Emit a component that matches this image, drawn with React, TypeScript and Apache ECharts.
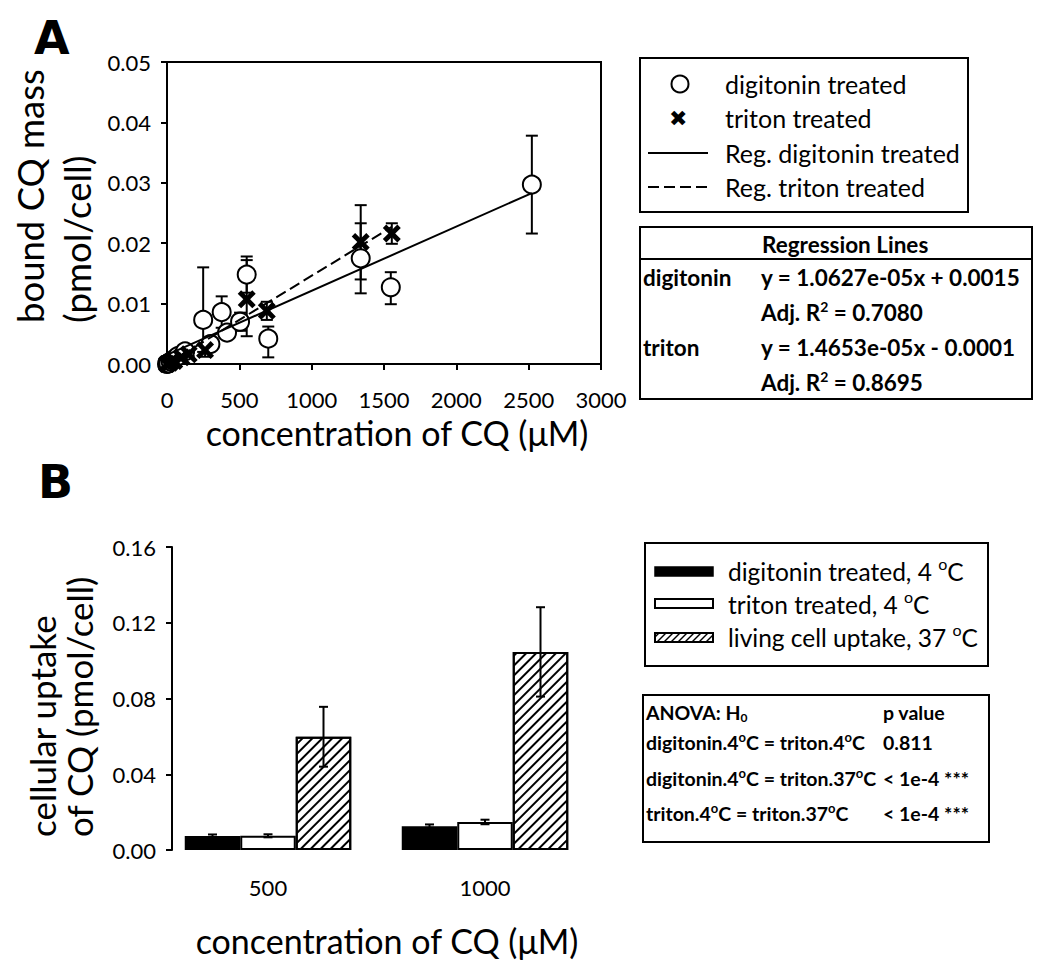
import React, { useEffect, useRef } from "react";
import * as echarts from "echarts";

// ---------- Panel A data ----------
// [concentration (µM), bound CQ (pmol/cell), lower error, upper error]
const digitoninPoints: number[][] = [
  [0, 0.0, 0.0, 0.0],
  [10, 0.0001, 0.0001, 0.0001],
  [25, 0.0004, 0.0004, 0.0004],
  [50, 0.0008, 0.0006, 0.001],
  [75, 0.0013, 0.001, 0.0016],
  [125, 0.0021, 0.0017, 0.0025],
  [250, 0.0073, 0.002, 0.016],
  [300, 0.0033, 0.0025, 0.0045],
  [378, 0.0086, 0.006, 0.0112],
  [415, 0.0052, 0.0045, 0.006],
  [505, 0.007, 0.0055, 0.0085],
  [551, 0.0148, 0.0118, 0.0178],
  [700, 0.0042, 0.0011, 0.0062],
  [1339, 0.0175, 0.0117, 0.0233],
  [1547, 0.0127, 0.0099, 0.0152],
  [2522, 0.0297, 0.0216, 0.0378],
];
const tritonPoints: number[][] = [
  [0, 0.0, 0.0, 0.0],
  [20, 0.0002, 0.0002, 0.0002],
  [50, 0.0005, 0.0004, 0.0006],
  [100, 0.0011, 0.0009, 0.0013],
  [150, 0.0016, 0.0013, 0.0019],
  [263, 0.0023, 0.0012, 0.0034],
  [551, 0.0107, 0.0046, 0.0172],
  [690, 0.0088, 0.0073, 0.0103],
  [1339, 0.0202, 0.014, 0.0263],
  [1554, 0.0216, 0.0199, 0.0233],
];
// regression line end points
const regDigitonin: number[][] = [
  [0, 0.0015],
  [2522, 0.0283],
];
const regTriton: number[][] = [
  [0, 0.0],
  [1554, 0.0227],
];
const xTicksA = { min: 0, max: 3000, interval: 500 };
const yTicksA = { min: 0, max: 0.05, interval: 0.01 };

// ---------- Panel B data ----------
const categoriesB = ["500", "1000"];
const digitonin4C = [0.0074, 0.0126];
const digitonin4CErr = [0.0008, 0.0009];
const triton4C = [0.0075, 0.0148];
const triton4CErr = [0.0008, 0.0012];
const living37C = [0.0598, 0.1046];
const living37CErr = [0.0158, 0.0236];
const yTicksB = { min: 0, max: 0.16, interval: 0.04 };

// ---------- text tables ----------
const legendA = ["digitonin treated", "triton treated", "Reg. digitonin treated", "Reg. triton treated"];
const regressionRows = [
  ["digitonin", "y = 1.0627e-05x + 0.0015"],
  ["", "Adj. R{sup|2} = 0.7080"],
  ["triton", "y = 1.4653e-05x - 0.0001"],
  ["", "Adj. R{sup|2} = 0.8695"],
];
const legendB = ["digitonin treated, 4 {sup|o}C", "triton treated, 4 {sup|o}C", "living cell uptake, 37 {sup|o}C"];
const anovaRows = [
  ["ANOVA: H{sub|0}", "p value"],
  ["digitonin.4{sup|o}C = triton.4{sup|o}C", "0.811"],
  ["digitonin.4{sup|o}C = triton.37{sup|o}C", "< 1e-4 ***"],
  ["triton.4{sup|o}C = triton.37{sup|o}C", "< 1e-4 ***"],
];

const FONT = "Lato";
const CROSS =
  "path://M0,3.8 L3.8,0 L10,6.2 L16.2,0 L20,3.8 L13.8,10 L20,16.2 L16.2,20 L10,13.8 L3.8,20 L0,16.2 L6.2,10 Z";

export default function App() {
  const ref = useRef<HTMLDivElement>(null);
  useEffect(() => {
    const chart = echarts.init(ref.current!, null, { renderer: "svg" });

    const errA = (capHalf: number) => (params: any, api: any) => {
      const x = api.value(0);
      const top = api.coord([x, api.value(2)]);
      const bot = api.coord([x, api.value(1)]);
      const st = { stroke: "#000", lineWidth: 2 };
      return {
        type: "group",
        children: [
          { type: "line", shape: { x1: top[0], y1: top[1], x2: bot[0], y2: bot[1] }, style: st },
          { type: "line", shape: { x1: top[0] - capHalf, y1: top[1], x2: top[0] + capHalf, y2: top[1] }, style: st },
          { type: "line", shape: { x1: bot[0] - capHalf, y1: bot[1], x2: bot[0] + capHalf, y2: bot[1] }, style: st },
        ],
      };
    };

    const BAR_W = 55.5;
    const errBData: number[][] = [];
    [
      [digitonin4C, digitonin4CErr],
      [triton4C, triton4CErr],
      [living37C, living37CErr],
    ].forEach(([vals, errs], k) => {
      vals.forEach((v, i) => errBData.push([i, v - errs[i], v + errs[i], k]));
    });

    const supRich = {
      sup: { fontSize: 16, fontFamily: FONT, padding: [0, 0, 15, 0] },
    };
    const boldRichReg = {
      sup: { fontSize: 14, fontFamily: FONT, fontWeight: "bold", padding: [0, 0, 11, 0] },
    };
    const boldRichAnova = {
      sup: { fontSize: 13, fontFamily: FONT, fontWeight: "bold", padding: [0, 0, 10, 0] },
      sub: { fontSize: 12, fontFamily: FONT, fontWeight: "bold", padding: [10, 0, 0, 0] },
    };

    const txt = (x: number, y: number, text: string, size: number, extra: any = {}, rotation = 0) => ({
      type: "text",
      x,
      y,
      rotation,
      style: {
        text,
        fontFamily: FONT,
        fontSize: size,
        fill: "#000",
        align: "left",
        verticalAlign: "middle",
        ...extra,
      },
    });

    const hatchLines: any[] = [];
    for (let hx = 650; hx < 713; hx += 7) {
      const x1 = Math.max(hx, 655);
      const x2 = Math.min(hx + 9, 713);
      hatchLines.push({
        type: "line",
        shape: { x1, y1: 642 - (x1 - hx), x2, y2: 633 + (hx + 9 - x2) },
        style: { stroke: "#000", lineWidth: 1.5 },
      });
    }

    const ROT = Math.PI / 2;
    const graphic: any[] = [
      // panel letters
      txt(34, 38, "A", 46, { fontFamily: "DejaVu Sans", fontWeight: "bold" }),
      txt(38, 482, "B", 46, { fontFamily: "DejaVu Sans", fontWeight: "bold" }),
      // axis titles A
      txt(30, 323, "bound CQ mass", 36.5, {}, ROT),
      txt(77, 323, "(pmol/cell)", 36.5, {}, ROT),
      txt(397, 432, "concentration of CQ (μM)", 34, { align: "center" }),
      // axis titles B
      txt(42, 837, "cellular uptake", 35, {}, ROT),
      txt(79, 837, "of CQ (pmol/cell)", 35, {}, ROT),
      txt(387, 940, "concentration of CQ (μM)", 34, { align: "center" }),
      // legend A
      { type: "rect", shape: { x: 640, y: 58, width: 328, height: 154 }, style: { fill: "#fff", stroke: "#000", lineWidth: 2 } },
      { type: "circle", shape: { cx: 680, cy: 84, r: 8.5 }, style: { fill: "#fff", stroke: "#000", lineWidth: 2 } },
      txt(725, 84, legendA[0], 25),
      txt(669, 118, "✖", 22, { fontFamily: "DejaVu Sans" }),
      txt(725, 118, legendA[1], 25),
      { type: "line", shape: { x1: 648, y1: 153, x2: 708, y2: 153 }, style: { stroke: "#000", lineWidth: 2 } },
      txt(725, 153, legendA[2], 25),
      { type: "line", shape: { x1: 648, y1: 187, x2: 708, y2: 187 }, style: { stroke: "#000", lineWidth: 2, lineDash: [11, 5] } },
      txt(725, 187, legendA[3], 25),
      // regression table
      { type: "rect", shape: { x: 640, y: 227, width: 392, height: 172 }, style: { fill: "#fff", stroke: "#000", lineWidth: 2 } },
      { type: "line", shape: { x1: 640, y1: 259, x2: 1032, y2: 259 }, style: { stroke: "#000", lineWidth: 2 } },
      txt(762, 244, "Regression Lines", 22.5, { fontWeight: "bold" }),
      ...regressionRows.flatMap((r, i) => [
        txt(643, 277 + i * 35, r[0], 22.5, { fontWeight: "bold" }),
        txt(761, 277 + i * 35, r[1], 22.5, { fontWeight: "bold", rich: boldRichReg }),
      ]),
      // legend B
      { type: "rect", shape: { x: 645, y: 543, width: 343, height: 123 }, style: { fill: "#fff", stroke: "#000", lineWidth: 2 } },
      { type: "rect", shape: { x: 655, y: 567, width: 58, height: 9 }, style: { fill: "#000", stroke: "#000", lineWidth: 1.5 } },
      { type: "rect", shape: { x: 655, y: 599, width: 58, height: 9 }, style: { fill: "#fff", stroke: "#000", lineWidth: 2 } },
      ...hatchLines,
      { type: "rect", shape: { x: 655, y: 633, width: 58, height: 9 }, style: { fill: "none", stroke: "#000", lineWidth: 2 } },
      ...legendB.map((t, i) => txt(728, 571 + i * 33, t, 24.5, { rich: supRich })),
      // ANOVA table
      { type: "rect", shape: { x: 643, y: 695, width: 346, height: 147 }, style: { fill: "#fff", stroke: "#000", lineWidth: 2 } },
      ...anovaRows.flatMap((r, i) => {
        const y = [712, 742, 778, 813][i];
        return [
          txt(646, y, r[0], 19.5, { fontWeight: "bold", rich: boldRichAnova }),
          txt(883, y, r[1], 19.5, { fontWeight: "bold" }),
        ];
      }),
    ];

    const axisLabelStyle = { fontFamily: FONT, fontSize: 22, color: "#000" };
    const blackLine = { lineStyle: { color: "#000", width: 2 } };

    chart.setOption({
      animation: false,
      textStyle: { fontFamily: FONT },
      grid: [
        { left: 167, top: 62, width: 434, height: 302, show: true, borderColor: "#000", borderWidth: 2, backgroundColor: "transparent" },
        { left: 159.5, top: 547, width: 434, height: 303 },
      ],
      xAxis: [
        {
          gridIndex: 0,
          type: "value",
          ...xTicksA,
          axisLine: { show: true, onZero: false, ...blackLine },
          axisTick: { show: true, length: 6, ...blackLine },
          splitLine: { show: false },
          axisLabel: { ...axisLabelStyle, margin: 24, formatter: (v: number) => String(v) },
        },
        {
          gridIndex: 1,
          type: "category",
          data: categoriesB,
          axisLine: { show: false },
          axisTick: { show: false },
          axisLabel: { ...axisLabelStyle, margin: 26 },
        },
      ],
      yAxis: [
        {
          gridIndex: 0,
          type: "value",
          ...yTicksA,
          axisLine: { show: true, ...blackLine },
          axisTick: { show: true, length: 6, ...blackLine },
          splitLine: { show: false },
          axisLabel: { ...axisLabelStyle, margin: 16, formatter: (v: number) => v.toFixed(2) },
        },
        {
          gridIndex: 1,
          type: "value",
          ...yTicksB,
          offset: -12.5,
          axisLine: { show: true, ...blackLine },
          axisTick: { show: true, length: 6, ...blackLine },
          splitLine: { show: false },
          axisLabel: { ...axisLabelStyle, margin: 16, formatter: (v: number) => v.toFixed(2) },
        },
      ],
      series: [
        {
          type: "line",
          name: "Reg. digitonin treated",
          xAxisIndex: 0,
          yAxisIndex: 0,
          data: regDigitonin,
          symbol: "none",
          lineStyle: { color: "#000", width: 2 },
        },
        {
          type: "line",
          name: "Reg. triton treated",
          xAxisIndex: 0,
          yAxisIndex: 0,
          data: regTriton,
          symbol: "none",
          lineStyle: { color: "#000", width: 2, type: [11, 5] },
        },
        {
          type: "custom",
          xAxisIndex: 0,
          yAxisIndex: 0,
          clip: false,
          data: digitoninPoints.map((p) => [p[0], p[2], p[3]]),
          encode: { x: 0, y: [1, 2] },
          renderItem: errA(6),
        },
        {
          type: "custom",
          xAxisIndex: 0,
          yAxisIndex: 0,
          clip: false,
          data: tritonPoints.map((p) => [p[0], p[2], p[3]]),
          encode: { x: 0, y: [1, 2] },
          renderItem: errA(6),
        },
        {
          type: "scatter",
          name: "digitonin treated",
          xAxisIndex: 0,
          yAxisIndex: 0,
          clip: false,
          data: digitoninPoints.map((p) => [p[0], p[1]]),
          symbol: "circle",
          symbolSize: 18,
          itemStyle: { color: "#fff", borderColor: "#000", borderWidth: 2, opacity: 1 },
        },
        {
          type: "scatter",
          name: "triton treated",
          xAxisIndex: 0,
          yAxisIndex: 0,
          clip: false,
          data: tritonPoints.map((p) => [p[0], p[1]]),
          symbol: CROSS,
          symbolSize: 18,
          itemStyle: { color: "#000", opacity: 1 },
        },
        // Panel B bars
        {
          type: "bar",
          name: "digitonin treated, 4 °C",
          xAxisIndex: 1,
          yAxisIndex: 1,
          data: digitonin4C,
          barWidth: BAR_W,
          barGap: "0%",
          itemStyle: { color: "#000", borderColor: "#000", borderWidth: 2 },
        },
        {
          type: "bar",
          name: "triton treated, 4 °C",
          xAxisIndex: 1,
          yAxisIndex: 1,
          data: triton4C,
          barWidth: BAR_W,
          barGap: "0%",
          itemStyle: { color: "#fff", borderColor: "#000", borderWidth: 2 },
        },
        {
          type: "bar",
          name: "living cell uptake, 37 °C",
          xAxisIndex: 1,
          yAxisIndex: 1,
          data: living37C,
          barWidth: BAR_W,
          barGap: "0%",
          itemStyle: {
            color: "#fff",
            borderColor: "#000",
            borderWidth: 2,
            decal: {
              symbol: "rect",
              symbolSize: 1,
              dashArrayX: [1, 0],
              dashArrayY: [2, 5],
              rotation: -Math.PI / 4,
              color: "#000",
              backgroundColor: "#fff",
            },
          },
        },
        {
          type: "custom",
          xAxisIndex: 1,
          yAxisIndex: 1,
          clip: false,
          z: 5,
          data: errBData,
          encode: { x: 0, y: [1, 2] },
          renderItem: (params: any, api: any) => {
            const cat = api.value(0);
            const k = api.value(3);
            const top = api.coord([cat, api.value(2)]);
            const bot = api.coord([cat, api.value(1)]);
            const cx = top[0] + (k - 1) * BAR_W;
            const st = { stroke: "#000", lineWidth: 2 };
            return {
              type: "group",
              children: [
                { type: "line", shape: { x1: cx, y1: top[1], x2: cx, y2: bot[1] }, style: st },
                { type: "line", shape: { x1: cx - 4.5, y1: top[1], x2: cx + 4.5, y2: top[1] }, style: st },
                { type: "line", shape: { x1: cx - 4.5, y1: bot[1], x2: cx + 4.5, y2: bot[1] }, style: st },
              ],
            };
          },
        },
      ],
      graphic,
    });
    return () => chart.dispose();
  }, []);
  return <div ref={ref} style={{ position: "absolute", left: 0, top: 0, width: 1050, height: 975 }} />;
}
